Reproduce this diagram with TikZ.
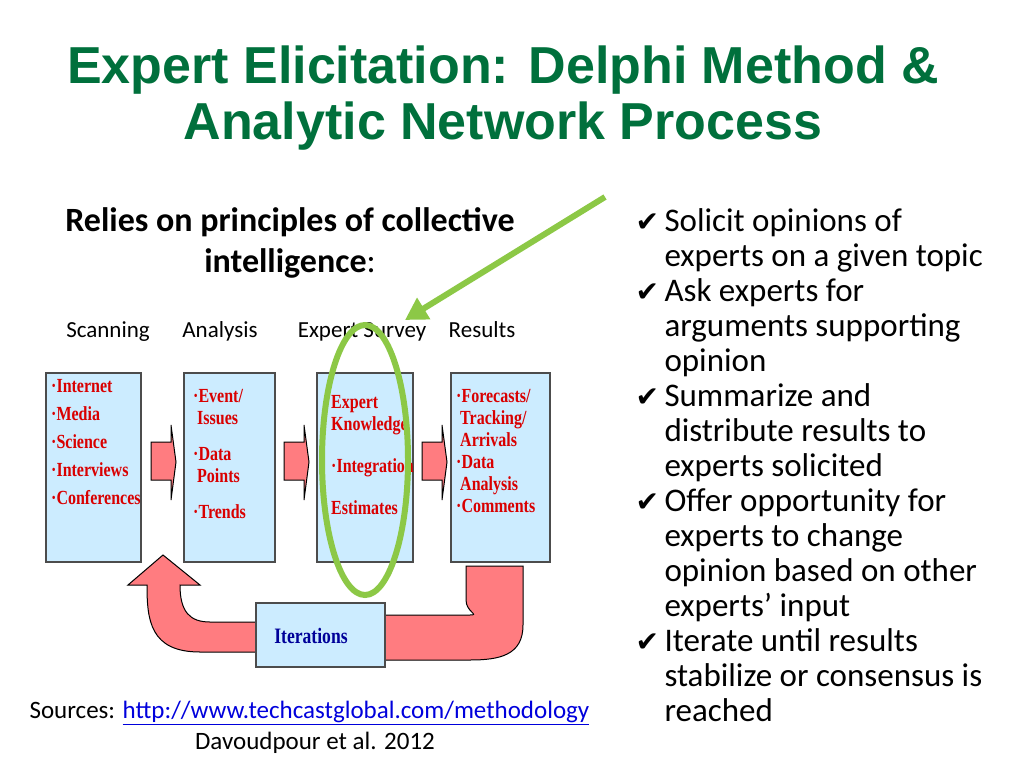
\documentclass[tikz,border=0pt]{standalone}
\usepackage{fontspec}
\setmainfont{Carlito}
\newfontfamily\titlefont{Liberation Sans}
\newfontfamily\boxfont[FakeStretch=0.8]{Liberation Serif}
\newfontfamily\symfont{DejaVu Sans}
\usetikzlibrary{arrows.meta}
\definecolor{titlegreen}{RGB}{0,112,60}
\definecolor{boxblue}{RGB}{204,236,255}
\definecolor{arrred}{RGB}{255,124,128}
\definecolor{limegreen}{RGB}{140,200,70}
\definecolor{linkblue}{RGB}{0,0,220}
\tikzset{
  stagebox/.style={draw=black!70, line width=1.2pt, fill=boxblue},
  boxtext/.style={anchor=north west, align=left, text=red!85!black, inner sep=1pt,
    font=\boxfont\bfseries\fontsize{20}{22}\selectfont},
  blockarrow/.style={draw=black, line width=1pt, fill=arrred},
  label/.style={anchor=base, font=\fontsize{23}{26}\selectfont},
  checktext/.style={anchor=north west, align=left, font=\fontsize{33}{35}\selectfont}
}
\newcommand{\chk}{{\symfont\fontsize{28}{28}\selectfont ✔}}
\newcommand{\bul}{·}
\begin{document}
\begin{tikzpicture}[x=1pt,y=-1pt]
  \useasboundingbox (0,0) rectangle (1024,768);
  % title
  \node [font=\titlefont\bfseries\fontsize{52}{56}\selectfont, text=titlegreen, align=center] (title) at (503,98)
    {Expert Elicitation: Delphi Method \&\\Analytic Network Process};
  \node [font=\bfseries\fontsize{34}{41}\selectfont, align=center] (relies) at (290,243)
    {Relies on principles of collective\\intelligence{\mdseries :}};
  % stage labels
  \node [label] (lscan) at (108,337) {Scanning};
  \node [label] (lana) at (220,337) {Analysis};
  \node [label] (lexp) at (362,337) {Expert Survey};
  \node [label] (lres) at (482,337) {Results};
  % loop arrow
  \draw [blockarrow] (466,566) -- (523,566) -- (523,625) .. controls (523,655) and (500,660) .. (470,660)
    -- (385,660) -- (385,615) -- (470,615) .. controls (480,615) and (466,612) .. (466,600) -- cycle;
  \draw [blockarrow] (256,652) -- (200,652) .. controls (150,652) and (147,620) .. (147,585)
    -- (128,585) -- (163,555) -- (200,585) -- (180,585) .. controls (180,612) and (190,622) .. (210,622)
    -- (256,622) -- cycle;
  \draw [stagebox] (256,603) rectangle (385,667);
  \node [font=\boxfont\bfseries\fontsize{22}{22}\selectfont, text=blue!60!black] (iter) at (311,636) {Iterations};
  % stage boxes
  \draw [stagebox] (46,373) rectangle (141,562);
  \draw [stagebox] (184,373) rectangle (275,562);
  \draw [stagebox] (317,373) rectangle (413,562);
  \draw [stagebox] (451,373) rectangle (550,562);
  \node [boxtext] (scan) at (50,378) {\bul Internet\\[6pt]\bul Media\\[6pt]\bul Science\\[6pt]\bul Interviews\\[6pt]\bul Conferences};
  \node [boxtext] (ana) at (192,388) {\bul Event/\\\ Issues\\[14pt]\bul Data\\\ Points\\[14pt]\bul Trends};
  \node [boxtext] (exps) at (330,394) {Expert\\Knowledge\\[20pt]\bul Integration\\[20pt]Estimates};
  \node [boxtext] (res) at (455,388) {\bul Forecasts/\\\ Tracking/\\\ Arrivals\\\bul Data\\\ Analysis\\\bul Comments};
  % arrows between boxes
  \foreach \x in {151,284,422}
    \draw [blockarrow] (\x,442) -- (\x+20,442) -- (\x+20,425) -- (\x+25,462) -- (\x+20,500)
      -- (\x+20,480) -- (\x,480) -- cycle;
  % green marks
  \draw [limegreen, line width=6pt] (365,460) ellipse [x radius=43, y radius=135];
  \coordinate (gstart) at (605,197);
  \coordinate (gend) at (405,320);
  \draw [limegreen, line width=6pt, -{Triangle[length=22pt,width=24pt]}] (gstart) -- (gend);
  % right column
  \node [checktext] (points) at (632,205)
    {\chk\,Solicit opinions of\\\hphantom{\chk\,}experts on a given topic\\
     \chk\,Ask experts for\\\hphantom{\chk\,}arguments supporting\\\hphantom{\chk\,}opinion\\
     \chk\,Summarize and\\\hphantom{\chk\,}distribute results to\\\hphantom{\chk\,}experts solicited\\
     \chk\,Offer opportunity for\\\hphantom{\chk\,}experts to change\\\hphantom{\chk\,}opinion based on other\\\hphantom{\chk\,}experts’ input\\
     \chk\,Iterate until results\\\hphantom{\chk\,}stabilize or consensus is\\\hphantom{\chk\,}reached};
  % sources
  \node [font=\fontsize{25}{28}\selectfont, anchor=west] (src) at (26,713)
    {Sources: \textcolor{linkblue}{\underline{http://www.techcastglobal.com/methodology}}};
  \node [font=\fontsize{25}{28}\selectfont] (dav) at (315,743) {Davoudpour et al. 2012};
\end{tikzpicture}
\end{document}
